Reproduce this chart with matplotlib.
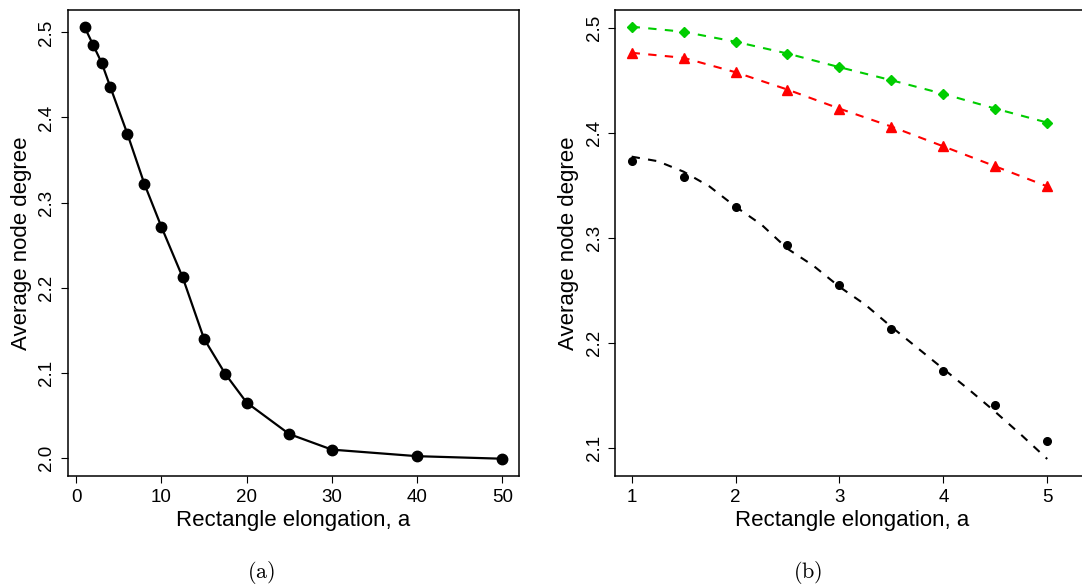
import matplotlib
matplotlib.use("Agg")
import matplotlib.pyplot as plt

plt.rcParams['font.family'] = ['Liberation Sans', 'DejaVu Sans']
plt.rcParams['mathtext.fontset'] = 'cm'

# Panel (a)
elong_a = [1, 2, 3, 4, 6, 8, 10, 12.5, 15, 17.5, 20, 25, 30, 40, 50]
deg_a = [2.506, 2.485, 2.464, 2.436, 2.381, 2.322, 2.2715, 2.212, 2.140,
         2.0986, 2.065, 2.028, 2.0097, 2.002, 1.999]

# Panel (b)
elong_b = [1, 1.5, 2, 2.5, 3, 3.5, 4, 4.5, 5]
deg_green = [2.501, 2.4962, 2.4867, 2.4755, 2.4625, 2.4501, 2.4371, 2.4231, 2.4098]
deg_red = [2.4762, 2.4714, 2.4577, 2.4412, 2.4231, 2.406, 2.3872, 2.3682, 2.3491]
deg_black = [2.3736, 2.3584, 2.3291, 2.293, 2.2555, 2.2136, 2.1739, 2.141, 2.1067]
fit_x = [1, 1.25, 1.5, 1.75, 2, 2.25, 2.5, 2.75, 3, 3.25, 3.5, 3.75, 4, 4.25, 4.5, 4.75, 5]
fit_black = [2.3774, 2.3731, 2.3631, 2.349, 2.3298, 2.3127, 2.2898, 2.2736, 2.2536,
             2.2365, 2.2155, 2.1955, 2.1755, 2.1555, 2.1346, 2.1127, 2.0898]

W, H = 1082, 588
fig = plt.figure(figsize=(W / 100, H / 100), dpi=100)

def px_axes(l, r, t, b):
    return fig.add_axes([l / W, 1 - b / H, (r - l) / W, (b - t) / H])

ax1 = px_axes(68, 519, 10, 476)
ax2 = px_axes(615, 1090, 10, 476)

for ax in (ax1, ax2):
    for s in ax.spines.values():
        s.set_linewidth(1.1)
    ax.tick_params(axis='both', direction='out', length=5, width=0.8,
                   labelsize=13.5, pad=4)
    ax.tick_params(axis='y', labelrotation=90)
    ax.set_xlabel('Rectangle elongation, a', fontsize=16, labelpad=3)
    ax.set_ylabel('Average node degree', fontsize=16, labelpad=5)

dash = (0, (4, 4))

# (a)
ax1.plot(elong_a, deg_a, color='black', lw=1.6, marker='o', ms=7.5,
         markerfacecolor='black', markeredgecolor='black')
ax1.set_xlim(-0.96, 51.96)
ax1.set_ylim(1.9787, 2.5263)
ax1.set_xticks([0, 10, 20, 30, 40, 50])
ax1.set_yticks([2.0, 2.1, 2.2, 2.3, 2.4, 2.5])
ax1.set_yticklabels(['2.0', '2.1', '2.2', '2.3', '2.4', '2.5'], va='center')

# (b)
ax2.plot(elong_b, deg_green, color='#00CD00', lw=1.5, linestyle=dash)
ax2.plot(elong_b, deg_green, color='#00CD00', marker='D', ms=5.5, linestyle='none')
ax2.plot(elong_b, deg_red, color='#FF0000', lw=1.5, linestyle=dash)
ax2.plot(elong_b, deg_red, color='#FF0000', marker='^', ms=7.5, linestyle='none')
ax2.plot(fit_x, fit_black, color='black', lw=1.5, linestyle=dash)
ax2.plot(elong_b, deg_black, color='black', marker='o', ms=5.5, linestyle='none')
ax2.set_xlim(0.84, 0.84 + (1090 - 615) / 103.9)
ax2.set_ylim(2.0736, 2.5169)
ax2.set_xticks([1, 2, 3, 4, 5])
ax2.set_yticks([2.1, 2.2, 2.3, 2.4, 2.5])
ax2.set_yticklabels(['2.1', '2.2', '2.3', '2.4', '2.5'], va='center')
ax2.spines['right'].set_visible(False)

fig.text(261 / W, 1 - 573 / H, r'$\mathrm{(a)}$', fontsize=16, ha='center', va='center')
fig.text(808 / W, 1 - 573 / H, r'$\mathrm{(b)}$', fontsize=16, ha='center', va='center')

fig.savefig('out.png', dpi=100)
